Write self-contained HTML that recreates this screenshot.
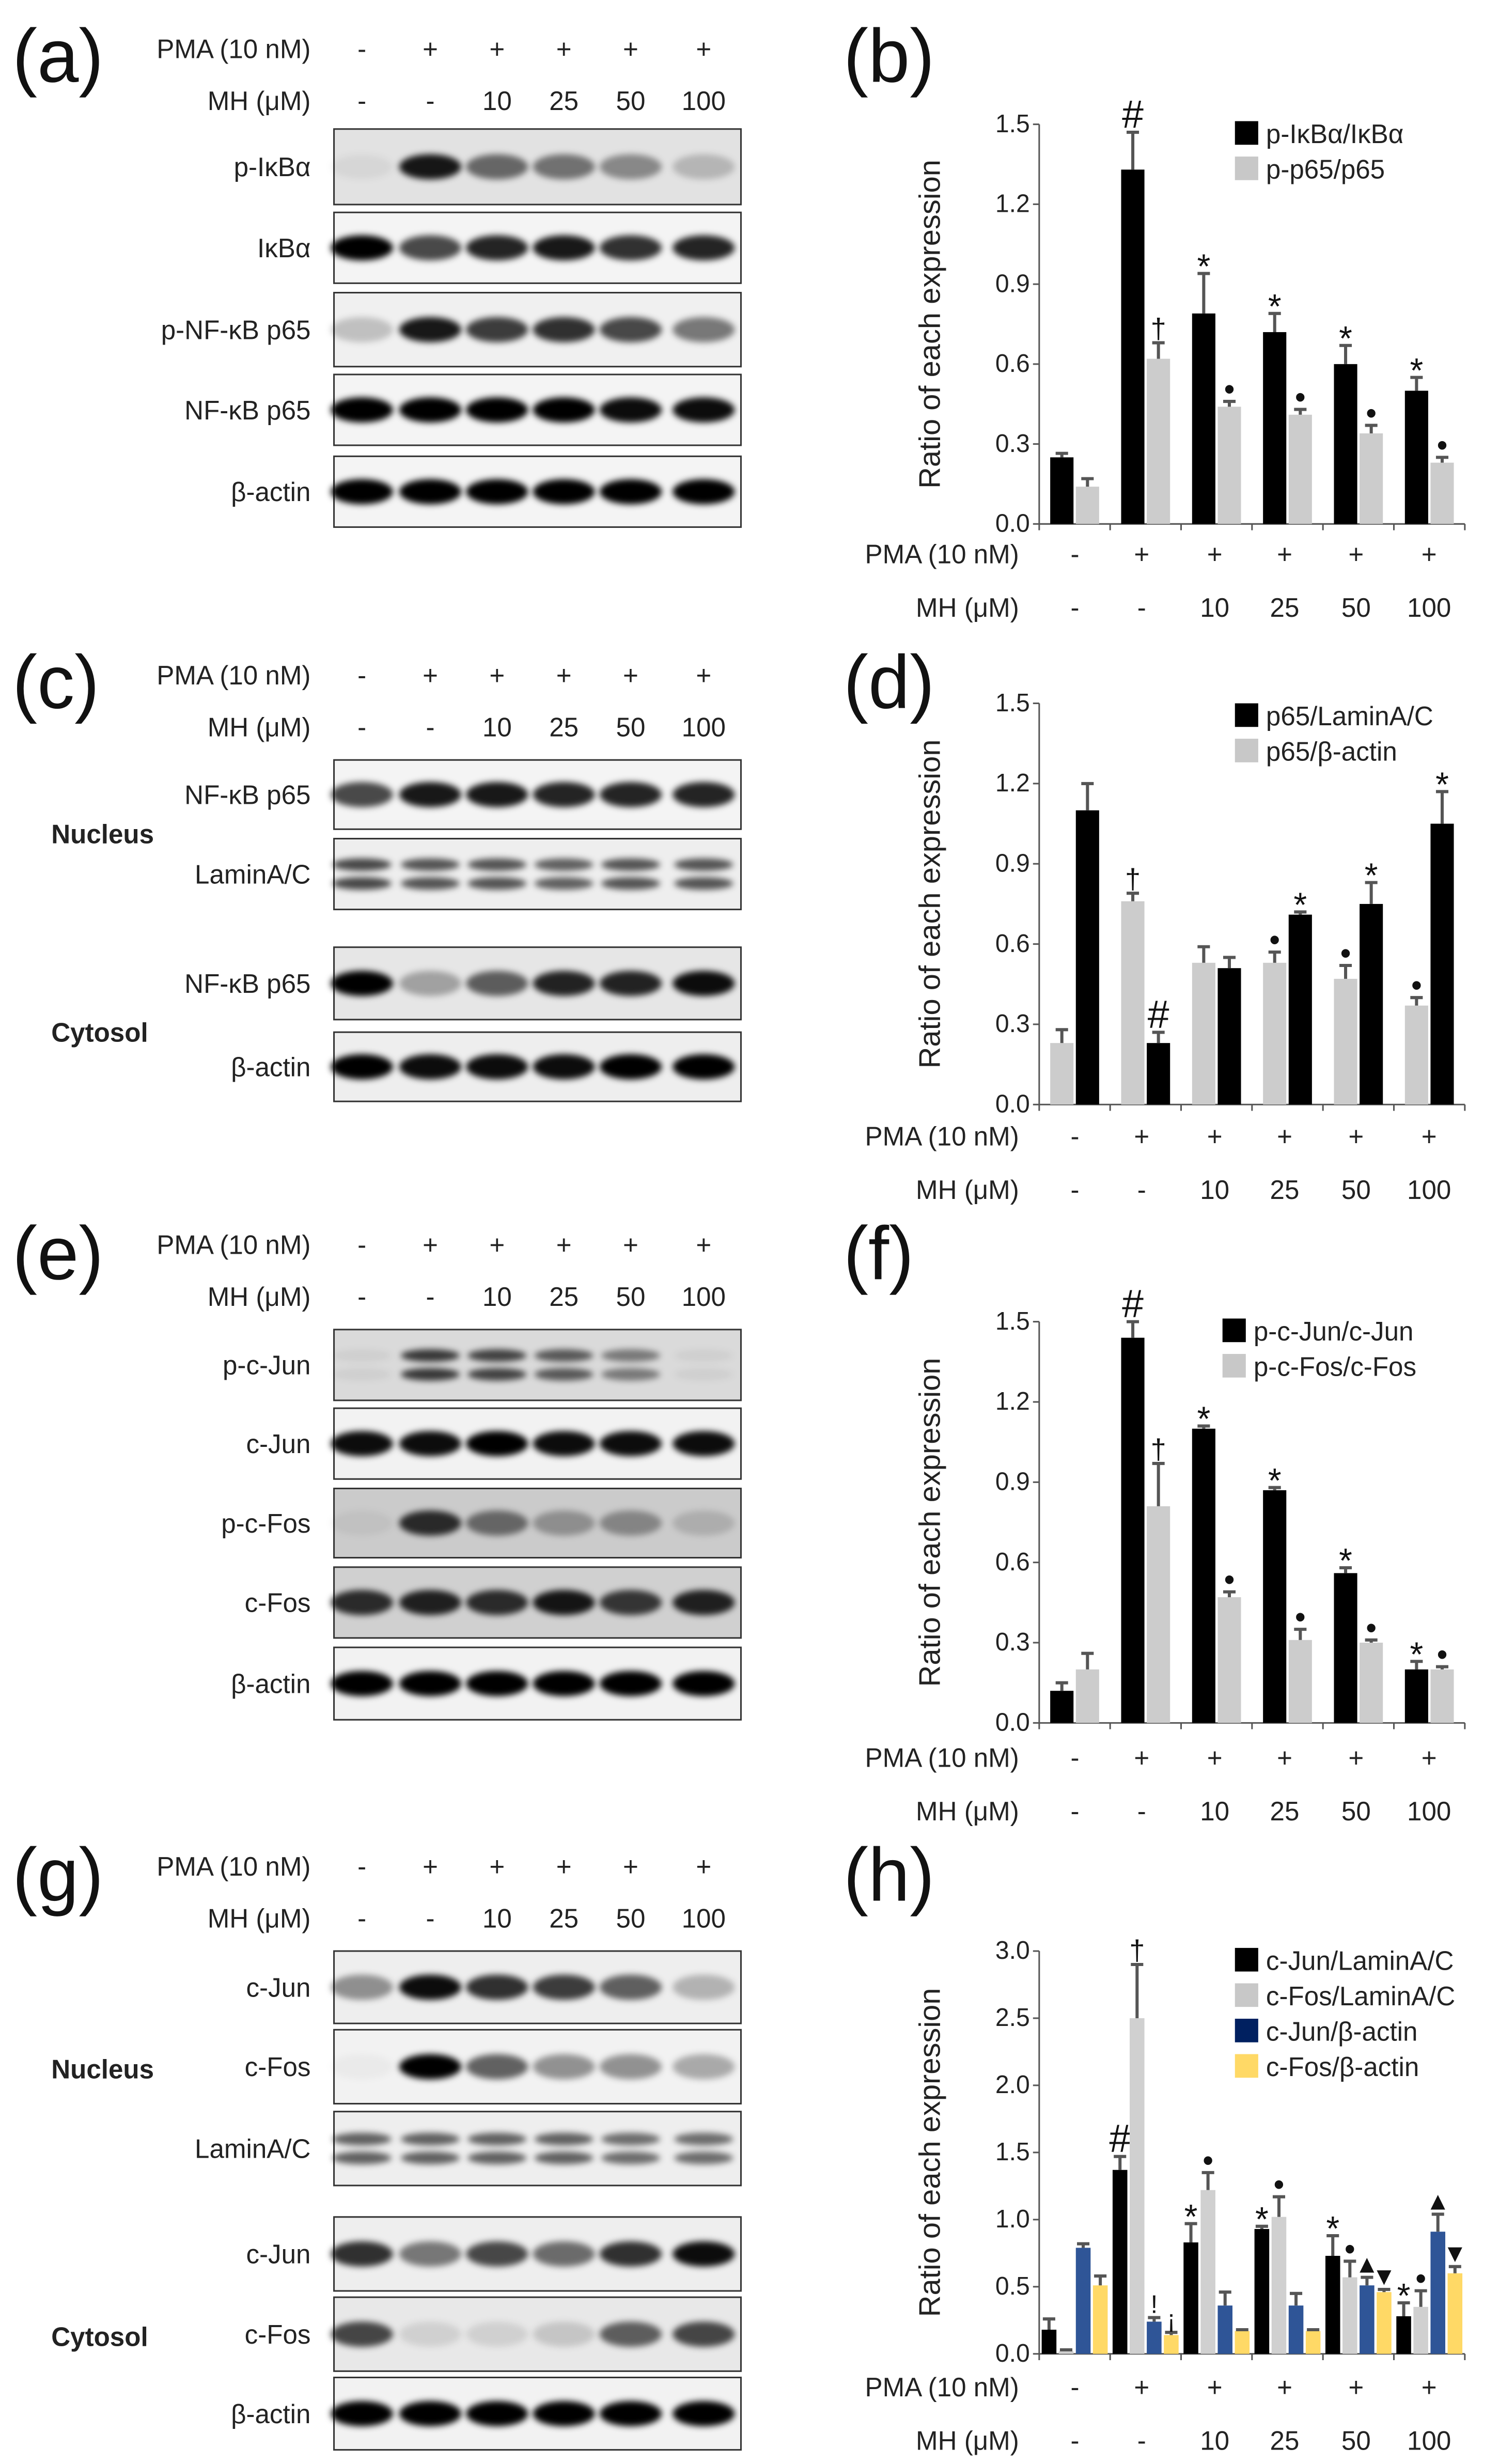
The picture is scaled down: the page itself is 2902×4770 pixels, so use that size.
<!DOCTYPE html>
<html><head><meta charset="utf-8"><style>
html,body{margin:0;padding:0;background:#fff}
svg{display:block}
text{font-family:"Liberation Sans",Arial,sans-serif}
</style></head><body>
<svg id="fig" xmlns="http://www.w3.org/2000/svg" width="2902" height="4770" viewBox="0 0 965 1566" preserveAspectRatio="none">
<defs>
<filter id="blur" x="-50%" y="-100%" width="200%" height="300%"><feGaussianBlur stdDeviation="2"/></filter>
</defs>
<g id="root"></g>
</svg>
<script>
// ---- shared lane labels ----
const pmaLabels = ["-","+","+","+","+","+"];
const mhLabels = ["-","-","10","25","50","100"];
// ---- chart (b) ----
const bCats = ["ctrl","PMA","MH10","MH25","MH50","MH100"];
const bBlack = [0.25,1.33,0.79,0.72,0.60,0.50];
const bBlackErr = [0.015,0.14,0.15,0.07,0.07,0.05];
const bGray = [0.14,0.62,0.44,0.41,0.34,0.23];
const bGrayErr = [0.03,0.06,0.02,0.02,0.03,0.02];
const bTicks = [0,0.3,0.6,0.9,1.2,1.5];
const bTickLabels = ["0.0","0.3","0.6","0.9","1.2","1.5"];
// ---- chart (d) ----
const dGray = [0.23,0.76,0.53,0.53,0.47,0.37];
const dGrayErr = [0.05,0.03,0.06,0.04,0.05,0.03];
const dBlack = [1.10,0.23,0.51,0.71,0.75,1.05];
const dBlackErr = [0.10,0.04,0.04,0.01,0.08,0.12];
// ---- chart (f) ----
const fBlack = [0.12,1.44,1.10,0.87,0.56,0.20];
const fBlackErr = [0.03,0.06,0.01,0.01,0.02,0.03];
const fGray = [0.20,0.81,0.47,0.31,0.30,0.20];
const fGrayErr = [0.06,0.16,0.02,0.04,0.01,0.01];
// ---- chart (h) ----
const hTicks = [0,0.5,1.0,1.5,2.0,2.5,3.0];
const hTickLabels = ["0.0","0.5","1.0","1.5","2.0","2.5","3.0"];
const hJunLamin = [0.18,1.37,0.83,0.93,0.73,0.28];
const hJunLaminErr = [0.08,0.10,0.14,0.02,0.15,0.10];
const hFosLamin = [0.02,2.50,1.22,1.02,0.57,0.35];
const hFosLaminErr = [0.01,0.40,0.13,0.15,0.12,0.12];
const hJunActin = [0.79,0.24,0.36,0.36,0.51,0.91];
const hJunActinErr = [0.03,0.03,0.10,0.09,0.06,0.13];
const hFosActin = [0.51,0.14,0.17,0.17,0.46,0.60];
const hFosActinErr = [0.07,0.02,0.01,0.01,0.02,0.05];

const NS="http://www.w3.org/2000/svg";
const root=document.getElementById('root');
function mk(tag,attrs,parent,txt){const e=document.createElementNS(NS,tag);for(const k in attrs)e.setAttribute(k,attrs[k]);if(txt!==undefined)e.textContent=txt;(parent||root).appendChild(e);return e;}
const laneX=[233,277,320,363,406,453];
const colX=[692,735,782,827,873,920];

function header(yP,yM){
  let t=mk('text',{x:200,y:yP+6,'font-size':17,'text-anchor':'end',fill:'#222'},root,'PMA (10 nM)');
  
  
  t=mk('text',{x:200,y:yM+6,'font-size':17,'text-anchor':'end',fill:'#222'},root,'MH (μM)');
  
  
  laneX.forEach((x,i)=>{
    let a=mk('text',{x:x,y:yP+6,'font-size':17,'text-anchor':'middle',fill:'#222'},root,pmaLabels[i]);
    
    
    let b=mk('text',{x:x,y:yM+6,'font-size':17,'text-anchor':'middle',fill:'#222'},root,mhLabels[i]);
    
    
  });
}
function panelLabel(x,y,s){const t=mk('text',{x:x,y:y,'font-size':48,fill:'#111'},root,s);
  
  }
function blot(label,y1,y2,ints,bg,name,double){
  const g=mk('g',{});
  
  
  mk('rect',{x:215,y:y1,width:262,height:y2-y1,fill:bg,stroke:'#333','stroke-width':1},g);
  const cy=(y1+y2)/2;
  ints.forEach((v,i)=>{
    if(double){
      mk('ellipse',{cx:laneX[i],cy:cy-6,rx:19,ry:4,fill:'#000','fill-opacity':v,filter:'url(#blur)'},g);
      mk('ellipse',{cx:laneX[i],cy:cy+6,rx:19,ry:4,fill:'#000','fill-opacity':v,filter:'url(#blur)'},g);
    } else mk('ellipse',{cx:laneX[i],cy:cy,rx:20,ry:8,fill:'#000','fill-opacity':v,filter:'url(#blur)'},g);
  });
  const t=mk('text',{x:200,y:cy+6,'font-size':17,'text-anchor':'end',fill:'#222'},g,label);
  
  
}
function sideLabel(s,y){const t=mk('text',{x:33,y:y,'font-size':17,'font-weight':'bold',fill:'#222'},root,s);
  
  }

function chart(o){
  const g=mk('g',{});
  
  
  const L=669,R=943;
  const ys=v=>o.y0-(v/o.max)*(o.y0-o.yTop);
  mk('line',{x1:L,y1:o.yTop,x2:L,y2:o.y0,stroke:'#555','stroke-width':1},g);
  mk('line',{x1:L,y1:o.y0,x2:R,y2:o.y0,stroke:'#555','stroke-width':1},g);
  o.ticks.forEach((v,i)=>{
    mk('line',{x1:L-4,y1:ys(v),x2:L,y2:ys(v),stroke:'#555'},g);
    const t=mk('text',{x:L-6,y:ys(v)+5,'font-size':16,'text-anchor':'end',fill:'#222'},g,o.tickLabels[i]);
    
    
  });
  for(let i=0;i<=6;i++){const x=L+(R-L)*i/6;mk('line',{x1:x,y1:o.y0,x2:x,y2:o.y0+4,stroke:'#555'},g);}
  const yt=mk('text',{x:0,y:0,'font-size':19,'text-anchor':'middle',fill:'#222',transform:`translate(605,${(o.y0+o.yTop)/2}) rotate(-90)`},g,'Ratio of each expression');
  
  
  const gw=(R-L)/6;
  const n=o.series.length;
  const bw=n===2?15:9.5;
  const gap=1.5;
  o.series.forEach((s,si)=>{
    s.vals.forEach((v,i)=>{
      const c=L+gw*(i+0.5);
      const x=c-(n*bw+(n-1)*gap)/2+si*(bw+gap);
      const r=mk('rect',{x:x,y:ys(v),width:bw,height:o.y0-ys(v),fill:s.color},g);
      
      
      const top=v+s.err[i];
      const ec=s.errColor||'#555';
      mk('line',{x1:x+bw/2,y1:ys(v),x2:x+bw/2,y2:ys(top),stroke:ec,'stroke-width':2},g);
      mk('line',{x1:x+bw/2-4,y1:ys(top),x2:x+bw/2+4,y2:ys(top),stroke:ec,'stroke-width':2},g);
      const a=s.ann[i];
      if(a){
        let fs=16, dy=-3;
        if(a==='#'){fs=25;dy=-3;} else if(a==='*'){fs=22;dy=3;} else if(a==='•'){fs=20;dy=-1;} else if(a==='†'){fs=18;dy=-3;}
        const t=mk('text',{x:x+bw/2,y:ys(top)+dy,'font-size':fs,'text-anchor':'middle',fill:'#111'},g,a);
        
        }
    });
  });
  colX.forEach((x,i)=>{
    let a=mk('text',{x:x,y:o.pmaY+6,'font-size':17,'text-anchor':'middle',fill:'#222'},g,pmaLabels[i]);
    
    
    let b=mk('text',{x:x,y:o.pmaY+40,'font-size':17,'text-anchor':'middle',fill:'#222'},g,mhLabels[i]);
    
    
  });
  let p=mk('text',{x:656,y:o.pmaY+6,'font-size':17,'text-anchor':'end',fill:'#222'},g,'PMA (10 nM)');
  
  
  p=mk('text',{x:656,y:o.pmaY+40,'font-size':17,'text-anchor':'end',fill:'#222'},g,'MH (μM)');
  
  
  o.legend.forEach((l,i)=>{
    const ly=o.legY+i*22.5;
    const sq=mk('rect',{x:o.legX,y:ly-8,width:15,height:15,fill:l.color},g);
    
    
    const t=mk('text',{x:o.legX+20,y:ly+6,'font-size':17,fill:'#222'},g,l.label);
    
    
  });
}

// ===== Panel a =====
panelLabel(8,52,'(a)');
header(31,64);
blot('p-IκBα',82,130,[0.05,0.9,0.55,0.5,0.4,0.2],'#e2e2e2','blot-p-ikba');
blot('IκBα',135,180,[1,0.7,0.85,0.9,0.8,0.85],'#f4f4f4','blot-ikba');
blot('p-NF-κB p65',186,233,[0.2,0.9,0.75,0.8,0.7,0.5],'#f0f0f0','blot-p-nfkb');
blot('NF-κB p65',238,283,[1,1,1,1,0.95,0.95],'#f4f4f4','blot-nfkb');
blot('β-actin',290,335,[1,1,1,1,1,1],'#f4f4f4','blot-bactin-a');
panelLabel(543,52,'(b)');
chart({name:'chart-b',y0:333,yTop:79,max:1.5,ticks:bTicks,tickLabels:bTickLabels,pmaY:352,legX:795,legY:85,
  series:[{key:'p-ikba',vals:bBlack,err:bBlackErr,color:'#000',ann:["","#","*","*","*","*"]},
          {key:'p-p65',vals:bGray,err:bGrayErr,color:'#cccccc',ann:["","†","•","•","•","•"]}],
  legend:[{label:'p-IκBα/IκBα',color:'#000'},{label:'p-p65/p65',color:'#c8c8c8'}]});

// ===== Panel c =====
panelLabel(8,450,'(c)');
header(429,462);
blot('NF-κB p65',483,527,[0.7,0.9,0.9,0.85,0.85,0.85],'#f4f4f4','blot-nuc-nfkb');
blot('LaminA/C',533,578,[0.7,0.65,0.65,0.6,0.65,0.65],'#eeeeee','blot-nuc-lamin',true);
blot('NF-κB p65',602,648,[1,0.3,0.6,0.85,0.85,0.95],'#e6e6e6','blot-cyt-nfkb');
blot('β-actin',656,700,[1,0.95,0.95,0.95,1,1],'#eeeeee','blot-cyt-bactin');
sideLabel('Nucleus',536);
sideLabel('Cytosol',662);
panelLabel(543,450,'(d)');
chart({name:'chart-d',y0:702,yTop:447,max:1.5,ticks:bTicks,tickLabels:bTickLabels,pmaY:722,legX:795,legY:455,
  series:[{key:'p65-bactin',vals:dGray,err:dGrayErr,color:'#cccccc',ann:["","†","","•","•","•"]},
          {key:'p65-lamin',vals:dBlack,err:dBlackErr,color:'#000',ann:["","#","","*","*","*"]}],
  legend:[{label:'p65/LaminA/C',color:'#000'},{label:'p65/β-actin',color:'#c8c8c8'}]});

// ===== Panel e =====
panelLabel(8,813,'(e)');
header(791,824);
blot('p-c-Jun',845,890,[0.05,0.75,0.7,0.6,0.45,0.05],'#dadada','blot-p-cjun',true);
blot('c-Jun',895,940,[0.95,0.95,1,0.95,0.95,0.95],'#f2f2f2','blot-cjun');
blot('p-c-Fos',946,990,[0.05,0.8,0.5,0.3,0.35,0.15],'#cbcbcb','blot-p-cfos');
blot('c-Fos',996,1041,[0.8,0.85,0.8,0.9,0.75,0.85],'#d0d0d0','blot-cfos');
blot('β-actin',1047,1093,[1,1,1,1,1,1],'#f2f2f2','blot-bactin-e');
panelLabel(543,813,'(f)');
chart({name:'chart-f',y0:1095,yTop:840,max:1.5,ticks:bTicks,tickLabels:bTickLabels,pmaY:1117,legX:787,legY:846,
  series:[{key:'p-cjun',vals:fBlack,err:fBlackErr,color:'#000',ann:["","#","*","*","*","*"]},
          {key:'p-cfos',vals:fGray,err:fGrayErr,color:'#cccccc',ann:["","†","•","•","•","•"]}],
  legend:[{label:'p-c-Jun/c-Jun',color:'#000'},{label:'p-c-Fos/c-Fos',color:'#c8c8c8'}]});

// ===== Panel g =====
panelLabel(8,1208,'(g)');
header(1186,1219);
blot('c-Jun',1240,1286,[0.4,0.95,0.8,0.75,0.6,0.25],'#eeeeee','blot-nuc-cjun');
blot('c-Fos',1290,1337,[0.03,1,0.6,0.4,0.4,0.3],'#f2f2f2','blot-nuc-cfos');
blot('LaminA/C',1342,1389,[0.6,0.6,0.6,0.6,0.55,0.55],'#eeeeee','blot-nuc-lamin-g',true);
blot('c-Jun',1409,1456,[0.8,0.5,0.7,0.55,0.8,0.95],'#eeeeee','blot-cyt-cjun');
blot('c-Fos',1460,1507,[0.7,0.1,0.1,0.15,0.6,0.7],'#e8e8e8','blot-cyt-cfos');
blot('β-actin',1511,1557,[1,1,1,1,1,1],'#f2f2f2','blot-bactin-g');
sideLabel('Nucleus',1321);
sideLabel('Cytosol',1491);
panelLabel(543,1208,'(h)');
chart({name:'chart-h',y0:1496,yTop:1240,max:3.0,ticks:hTicks,tickLabels:hTickLabels,pmaY:1517,legX:795,legY:1246,
  series:[{key:'cjun-lamin',vals:hJunLamin,err:hJunLaminErr,color:'#000',ann:["","#","*","*","*","*"]},
          {key:'cfos-lamin',vals:hFosLamin,err:hFosLaminErr,color:'#d0d0d0',ann:["","†","•","•","•","•"]},
          {key:'cjun-bactin',vals:hJunActin,err:hJunActinErr,color:'#2f5597',ann:["","!","","","▲","▲"]},
          {key:'cfos-bactin',vals:hFosActin,err:hFosActinErr,color:'#ffd966',ann:["","¡","","","▼","▼"]}],
  legend:[{label:'c-Jun/LaminA/C',color:'#000'},{label:'c-Fos/LaminA/C',color:'#c8c8c8'},{label:'c-Jun/β-actin',color:'#002060'},{label:'c-Fos/β-actin',color:'#ffd966'}]});
</script>
</body></html>
